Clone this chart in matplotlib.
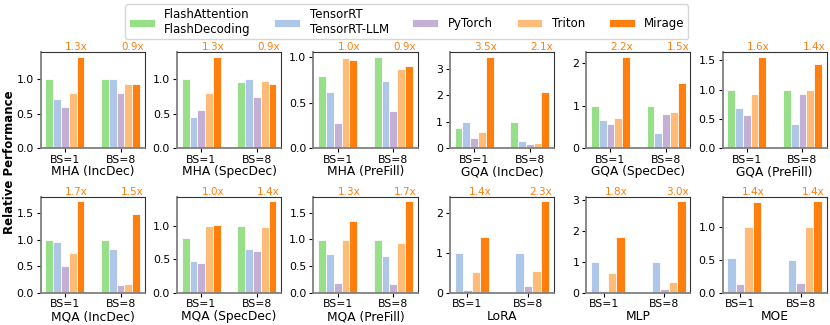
import numpy as np
import matplotlib
matplotlib.use("Agg")
import matplotlib.pyplot as plt

nan = np.nan
systems = ["FlashAttention\nFlashDecoding", "TensorRT\nTensorRT-LLM", "PyTorch", "Triton", "Mirage"]
colors = ["#98df8a", "#aec7e8", "#c5b0d5", "#ffbb78", "#ff7f0e"]
groups = ["BS=1", "BS=8"]
titles = ["MHA (IncDec)", "MHA (SpecDec)", "MHA (PreFill)", "GQA (IncDec)", "GQA (SpecDec)", "GQA (PreFill)",
          "MQA (IncDec)", "MQA (SpecDec)", "MQA (PreFill)", "LoRA", "MLP", "MOE"]

# values[benchmark] = [[BS=1 values per system], [BS=8 values per system]]
mha_incdec = [[1.00, 0.72, 0.60, 0.80, 1.33], [1.00, 1.00, 0.81, 0.94, 0.93]]
mha_specdec = [[1.00, 0.45, 0.56, 0.80, 1.33], [0.96, 1.00, 0.74, 0.98, 0.93]]
mha_prefill = [[0.79, 0.62, 0.28, 0.99, 0.96], [1.00, 0.73, 0.41, 0.87, 0.90]]
gqa_incdec = [[0.76, 0.98, 0.41, 0.63, 3.46], [1.00, 0.28, 0.16, 0.19, 2.12]]
gqa_specdec = [[1.00, 0.67, 0.58, 0.71, 2.14], [1.00, 0.35, 0.81, 0.84, 1.53]]
gqa_prefill = [[1.00, 0.68, 0.56, 0.93, 1.56], [1.00, 0.42, 0.93, 0.99, 1.44]]
mqa_incdec = [[0.99, 0.96, 0.51, 0.75, 1.72], [0.99, 0.82, 0.15, 0.18, 1.48]]
mqa_specdec = [[0.82, 0.47, 0.45, 0.99, 1.01], [0.99, 0.66, 0.63, 0.98, 1.36]]
mqa_prefill = [[0.99, 0.73, 0.19, 0.99, 1.34], [0.99, 0.70, 0.17, 0.94, 1.71]]
lora = [[nan, 1.00, 0.09, 0.53, 1.39], [nan, 1.00, 0.18, 0.56, 2.29]]
mlp = [[nan, 1.00, 0.08, 0.65, 1.81], [nan, 1.00, 0.13, 0.36, 2.97]]
moe = [[nan, 0.53, 0.14, 1.00, 1.37], [nan, 0.50, 0.15, 1.00, 1.38]]
speedups = [["1.3x", "0.9x"], ["1.3x", "0.9x"], ["1.0x", "0.9x"], ["3.5x", "2.1x"], ["2.2x", "1.5x"], ["1.6x", "1.4x"],
            ["1.7x", "1.5x"], ["1.0x", "1.4x"], ["1.3x", "1.7x"], ["1.4x", "2.3x"], ["1.8x", "3.0x"], ["1.4x", "1.4x"]]
all_data = [mha_incdec, mha_specdec, mha_prefill, gqa_incdec, gqa_specdec, gqa_prefill,
            mqa_incdec, mqa_specdec, mqa_prefill, lora, mlp, moe]

fig, axes = plt.subplots(2, 6, figsize=(8.3, 3.25), dpi=100)
fig.subplots_adjust(left=0.049, right=0.996, top=0.84, bottom=0.098, wspace=0.31, hspace=0.5)

width = 0.14
x = np.arange(len(groups))
for idx, ax in enumerate(axes.flat):
    data = np.array(all_data[idx], dtype=float)
    for s in range(len(systems)):
        ax.bar(x + (s - 2) * width, data[:, s], width, color=colors[s], edgecolor="white",
               linewidth=0.6, label=systems[s])
    ymax = np.nanmax(data)
    ax.set_ylim(0, ymax * 1.05)
    ax.set_xticks(x)
    ax.set_xticklabels(groups, fontsize=7.8)
    ax.tick_params(axis="y", labelsize=7.8, length=3, width=0.8, pad=2)
    ax.tick_params(axis="x", length=3, width=0.8, pad=1.5)
    ax.set_xlabel(titles[idx], fontsize=8.8, labelpad=0.5)
    for g in range(len(groups)):
        ax.text(x[g] + 1.5 * width, ymax * 1.05, speedups[idx][g], ha="center", va="bottom",
                fontsize=7.5, color="#ff7f0e")
    for sp in ["left", "bottom"]:
        ax.spines[sp].set_color("#808080")
        ax.spines[sp].set_linewidth(1.3)
    for sp in ["top", "right"]:
        ax.spines[sp].set_color("#333333")
        ax.spines[sp].set_linewidth(0.8)

fig.text(0.011, 0.5, "Relative Performance", rotation=90, ha="center", va="center",
         fontsize=8.5, fontweight="bold")
handles, labels = axes.flat[0].get_legend_handles_labels()
fig.legend(handles, labels, loc="upper center", bbox_to_anchor=(0.49, 1.005), ncol=5, fontsize=8.5,
           frameon=True, handlelength=2.2, columnspacing=2.0, borderpad=0.3, labelspacing=0.1)
fig.savefig("out.png", dpi=100)
